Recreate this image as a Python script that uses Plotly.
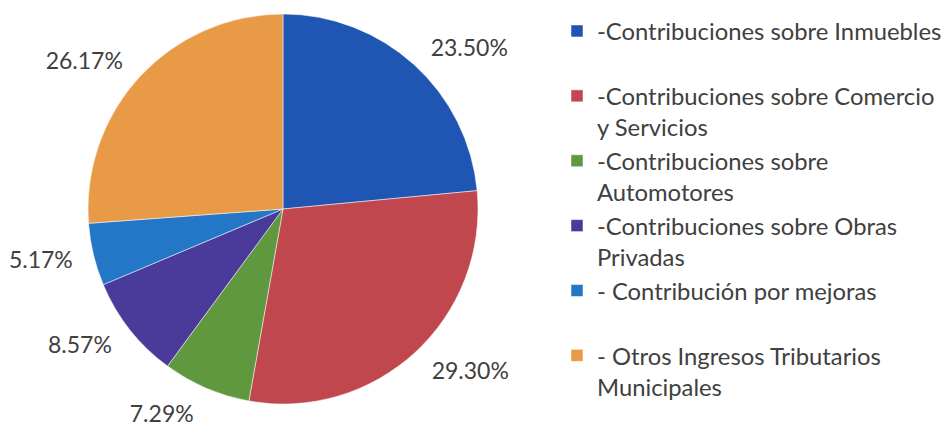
import plotly.graph_objects as go

categories = [
    "-Contribuciones sobre Inmuebles<br> ",
    "-Contribuciones sobre Comercio<br>y Servicios",
    "-Contribuciones sobre<br>Automotores",
    "-Contribuciones sobre Obras<br>Privadas",
    "- Contribución por mejoras<br> ",
    "- Otros Ingresos Tributarios<br>Municipales",
]
values = [23.50, 29.30, 7.29, 8.57, 5.17, 26.17]
colors = ["#1f55b3", "#c0474e", "#5f983f", "#4a3b9a", "#2477c7", "#e99a47"]

W, H = 946, 429
cx, cy = 283, 209          # pie centre in px (from top-left)
r_pie, r_lab = 195, 209

def dom(r):
    return dict(x=[(cx - r) / W, (cx + r) / W],
                y=[max(0, (H - cy - r) / H), min(1, (H - cy + r) / H)])

fig = go.Figure()
fig.add_trace(go.Pie(
    labels=categories, values=values, sort=False, direction="clockwise",
    rotation=0, marker=dict(colors=colors, line=dict(color="white", width=0.5)),
    textinfo="none", domain=dom(r_pie), showlegend=True, hoverinfo="label+percent",
))
fig.add_trace(go.Pie(
    labels=categories, values=values, sort=False, direction="clockwise",
    rotation=0, marker=dict(colors=["rgba(0,0,0,0)"] * len(values)),
    texttemplate="%{value:.2f}%", textposition="outside",
    textfont=dict(family="Lato", size=23, color="#404040"),
    domain=dom(r_lab), showlegend=False, hoverinfo="skip",
))
fig.update_layout(
    width=W, height=H, margin=dict(l=0, r=0, t=0, b=0, autoexpand=False),
    paper_bgcolor="white", plot_bgcolor="white",
    font=dict(family="Lato", color="#404040"),
    legend=dict(x=557 / W, xanchor="left", y=1 - 9 / H, yanchor="top",
                valign="top", font=dict(family="Lato", size=23.8, color="#404040"),
                bgcolor="rgba(0,0,0,0)"),
)
fig.write_html("out.html", config={"displayModeBar": False},
               post_script="document.body.style.margin='0';document.body.style.overflow='hidden';")
